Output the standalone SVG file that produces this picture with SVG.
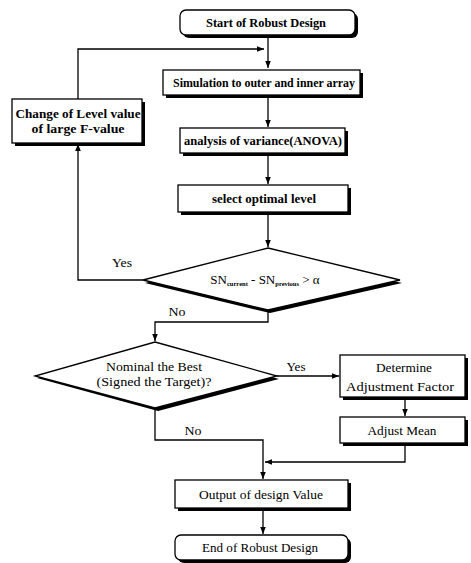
<svg xmlns="http://www.w3.org/2000/svg" width="471" height="563" viewBox="0 0 471 563">
<style>
.b{fill:#fff;stroke:#000;stroke-width:1.3}
.s{fill:#000}
.c{fill:none;stroke:#000;stroke-width:1.3}
text{font-family:"Liberation Serif","Times New Roman",serif;font-size:13.5px;fill:#000;text-anchor:middle}
.t{font-weight:bold;font-size:12.5px}
.sub{font-size:6.5px;font-weight:bold}
</style>
<defs>
<marker id="a" viewBox="0 0 10 10" refX="10" refY="5" markerWidth="7" markerHeight="7" markerUnits="userSpaceOnUse" orient="auto"><path d="M0,1 L10,5 L0,9 Z" fill="#000"/></marker>
</defs>
<rect width="471" height="563" fill="#fff"/>
<g id="connectors">
<path class="c" d="M268,35 V68" marker-end="url(#a)"/>
<path class="c" d="M78,99 V49 H264" marker-end="url(#a)"/>
<path class="c" d="M268,95 V127" marker-end="url(#a)"/>
<path class="c" d="M268,153 V184" marker-end="url(#a)"/>
<path class="c" d="M268,212 V247" marker-end="url(#a)"/>
<path class="c" d="M143,280 H78 V144" marker-end="url(#a)"/>
<path class="c" d="M268,310 V322 H155 V341" marker-end="url(#a)"/>
<path class="c" d="M277,376 H339" marker-end="url(#a)"/>
<path class="c" d="M405,397 V416" marker-end="url(#a)"/>
<path class="c" d="M405,443 V462 H265" marker-end="url(#a)"/>
<path class="c" d="M155,409 V440 H263 V479" marker-end="url(#a)"/>
<path class="c" d="M263,508 V534" marker-end="url(#a)"/>
<text x="122" y="267" textLength="20" lengthAdjust="spacingAndGlyphs">Yes</text>
<text x="177" y="316" textLength="17" lengthAdjust="spacingAndGlyphs">No</text>
<text x="296" y="371" textLength="19" lengthAdjust="spacingAndGlyphs">Yes</text>
<text x="193" y="435" textLength="17" lengthAdjust="spacingAndGlyphs">No</text>
</g>
<g id="start">
<rect x="183" y="13" width="175" height="25" rx="6" class="s"/>
<rect x="180" y="10" width="175" height="25" rx="6" class="b"/>
<text x="266" y="27" class="t" textLength="120" lengthAdjust="spacingAndGlyphs">Start of Robust Design</text>
</g>
<g id="simulation">
<rect x="166" y="73" width="197" height="25" class="s"/>
<rect x="163" y="70" width="197" height="25" class="b"/>
<text x="264" y="87" class="t" textLength="182" lengthAdjust="spacingAndGlyphs">Simulation to outer and inner array</text>
</g>
<g id="change">
<rect x="15" y="102" width="130" height="44" class="s"/>
<rect x="12" y="99" width="130" height="44" class="b"/>
<text x="78" y="118" class="t" textLength="125" lengthAdjust="spacingAndGlyphs">Change of Level value</text>
<text x="78" y="133" class="t" textLength="93" lengthAdjust="spacingAndGlyphs">of  large F-value</text>
</g>
<g id="anova">
<rect x="183" y="131" width="165" height="25" class="s"/>
<rect x="180" y="128" width="165" height="25" class="b"/>
<text x="263" y="145" class="t" textLength="158" lengthAdjust="spacingAndGlyphs">analysis of variance(ANOVA)</text>
</g>
<g id="select">
<rect x="181" y="188" width="170" height="27" class="s"/>
<rect x="178" y="185" width="170" height="27" class="b"/>
<text x="264" y="203" class="t" textLength="104" lengthAdjust="spacingAndGlyphs">select optimal level</text>
</g>
<g id="decision1">
<polygon points="268,251 402,283 270,313 145,283" class="s"/>
<polygon points="268,248 400,280 268,310 143,280" class="b"/>
<text x="265" y="284" style="font-size:13px">SN<tspan class="sub" dy="2">current</tspan><tspan dy="-2"> - SN</tspan><tspan class="sub" dy="2">previous</tspan><tspan dy="-2"> &gt; α</tspan></text>
</g>
<g id="decision2">
<polygon points="156,345 279,379 158,411 37,378" class="s"/>
<polygon points="155,342 277,376 155,408 35,376" class="b"/>
<text x="154" y="371" textLength="96" lengthAdjust="spacingAndGlyphs">Nominal the Best</text>
<text x="154" y="386" textLength="115" lengthAdjust="spacingAndGlyphs">(Signed the Target)?</text>
</g>
<g id="determine">
<rect x="343" y="358" width="125" height="42" class="s"/>
<rect x="340" y="355" width="125" height="42" class="b"/>
<text x="404" y="372" textLength="56" lengthAdjust="spacingAndGlyphs">Determine</text>
<text x="400" y="391" textLength="108" lengthAdjust="spacingAndGlyphs">Adjustment Factor</text>
</g>
<g id="adjust">
<rect x="343" y="420" width="125" height="26" class="s"/>
<rect x="340" y="417" width="125" height="26" class="b"/>
<text x="402" y="435" textLength="69" lengthAdjust="spacingAndGlyphs">Adjust Mean</text>
</g>
<g id="output">
<rect x="178" y="483" width="173" height="28" class="s"/>
<rect x="175" y="480" width="173" height="28" class="b"/>
<text x="261" y="499" textLength="124" lengthAdjust="spacingAndGlyphs">Output of design Value</text>
</g>
<g id="end">
<rect x="178" y="538" width="173" height="25" rx="6" class="s"/>
<rect x="175" y="535" width="173" height="25" rx="6" class="b"/>
<text x="260" y="552" textLength="116" lengthAdjust="spacingAndGlyphs">End of Robust Design</text>
</g>
</svg>
